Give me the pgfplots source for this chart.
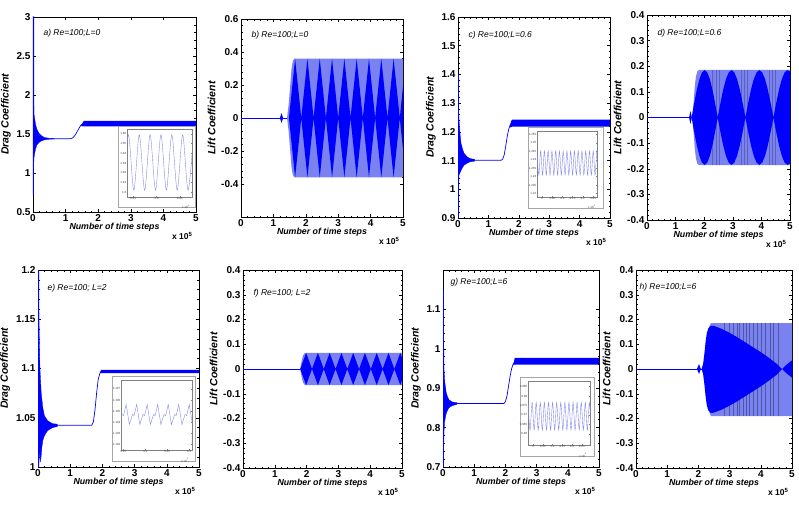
\documentclass[border=0pt]{standalone}
\usepackage{pgfplots}
\pgfplotsset{compat=1.18}
\usepackage{fontspec}
\setmainfont{Liberation Sans}
\definecolor{lb}{RGB}{122,130,240}
\definecolor{sb}{RGB}{78,84,168}
\definecolor{ib}{RGB}{135,140,235}
\pgfplotsset{
  panel/.style={scale only axis, anchor=south west, xmin=0, xmax=5, xtick={0,1,2,3,4,5},
    minor x tick num=4, minor y tick num=4, tick align=inside,
    major tick length=3pt, minor tick length=1.5pt,
    every tick/.style={black, line width=0.5pt}, axis line style={line width=0.7pt},
    tick label style={font=\bfseries\fontsize{10}{10}\selectfont},
    /pgf/number format/assume math mode=true, /pgf/number format/fixed, scaled ticks=false,
    xlabel={Number of time steps},
    xlabel style={font=\bfseries\itshape\fontsize{8.8}{9}\selectfont, yshift=5pt},
    ylabel style={font=\bfseries\itshape\fontsize{10.5}{10.5}\selectfont, yshift=-1pt},
    xticklabel style={yshift=1pt}, yticklabel style={xshift=1pt}},
  inset/.style={scale only axis, anchor=south west, tick align=inside, major tick length=1pt,
    minor tick num=0, every tick/.style={gray}, axis line style={gray, line width=0.3pt},
    tick label style={font=\fontsize{3}{3}\selectfont, text=darkgray, inner sep=0.5pt},
    /pgf/number format/assume math mode=true, /pgf/number format/fixed,
    /pgf/number format/precision=3, scaled ticks=false},
}
\tikzset{
  ttl/.style={anchor=west, font=\itshape\fontsize{8.5}{8.5}\selectfont},
  tenf/.style={anchor=north east, font=\bfseries\fontsize{8.5}{8.5}\selectfont},
  tinyf/.style={anchor=north east, font=\fontsize{3}{3}\selectfont, text=darkgray},
}
\begin{document}
\begin{tikzpicture}[x=1pt,y=1pt]
\useasboundingbox (0,0) rectangle (799,507);

% ---------------- a ----------------
\begin{axis}[panel, name=pa, at={(33pt,295pt)}, width=163pt, height=195pt,
  ymin=0.5, ymax=3, ytick={0.5,1,1.5,2,2.5,3}, ylabel={Drag Coefficient}]
\addplot[blue, line width=1.3pt] coordinates {(0.004,0.72) (0.006,3) (0.012,3) (0.016,1.15)};
\addplot[fill=blue, draw=blue, line width=0.3pt] coordinates {(0.015,1.15) (0.02,2.05) (0.03,1.75) (0.05,1.7) (0.08,1.62) (0.12,1.56) (0.18,1.51) (0.25,1.48) (0.35,1.455) (0.5,1.445) (0.65,1.442) (0.65,1.436) (0.5,1.433) (0.35,1.425) (0.25,1.41) (0.18,1.39) (0.12,1.36) (0.08,1.31) (0.05,1.25) (0.03,1.2)} -- cycle;
\addplot[blue, line width=0.7pt] coordinates {(0.6,1.44) (1.15,1.44) (1.22,1.45) (1.3,1.49) (1.38,1.55) (1.45,1.6) (1.5,1.625)};
\addplot[fill=blue, draw=none] coordinates {(1.45,1.6) (1.52,1.64) (1.56,1.668) (5,1.668) (5,1.598) (1.55,1.598) (1.5,1.6)} -- cycle;
\end{axis}
\node[ttl] at ([xshift=7pt,yshift=-16pt]pa.north west) {a) Re=100;L=0};
\node[tenf] at ([yshift=-17pt]pa.south east) {x 10\textsuperscript{5}};

% ---------------- b ----------------
\begin{axis}[panel, name=pb, at={(241pt,290pt)}, width=162pt, height=198pt,
  ymin=-0.6, ymax=0.6, ytick={-0.4,-0.2,0,0.2,0.4,0.6}, ylabel={Lift Coefficient}]
\addplot[blue, line width=0.7pt] coordinates {(0,0) (1.45,0)};
\addplot[fill=blue, draw=none] coordinates {(1.2,0) (1.25,0.03) (1.3,0) (1.25,-0.03)} -- cycle;
\addplot[fill=lb, draw=none] coordinates {(1.42,0) (1.47,0.08) (1.52,0.2) (1.56,0.3) (1.6,0.345) (1.65,0.36) (5,0.36) (5,-0.36) (1.65,-0.36) (1.6,-0.345) (1.56,-0.3) (1.52,-0.2) (1.47,-0.08)} -- cycle;
\addplot[fill=blue, draw=none] coordinates {(1.48,0) (1.67,0.36) (1.86,0) (2.05,0.36) (2.24,0) (2.43,0.36) (2.62,0) (2.81,0.36) (3.00,0) (3.19,0.36) (3.38,0) (3.57,0.36) (3.76,0) (3.95,0.36) (4.14,0) (4.33,0.36) (4.52,0) (4.71,0.36) (4.90,0) (5,0.19) (5,-0.19) (4.90,0) (4.71,-0.36) (4.52,0) (4.33,-0.36) (4.14,0) (3.95,-0.36) (3.76,0) (3.57,-0.36) (3.38,0) (3.19,-0.36) (3.00,0) (2.81,-0.36) (2.62,0) (2.43,-0.36) (2.24,0) (2.05,-0.36) (1.86,0) (1.67,-0.36)} -- cycle;
\end{axis}
\node[ttl] at ([xshift=7pt,yshift=-16pt]pb.north west) {b) Re=100;L=0};
\node[tenf] at ([yshift=-17pt]pb.south east) {x 10\textsuperscript{5}};

% ---------------- c ----------------
\begin{axis}[panel, name=pc, at={(458pt,289pt)}, width=152pt, height=201pt,
  ymin=0.9, ymax=1.6, ytick={0.9,1,1.1,1.2,1.3,1.4,1.5,1.6}, ylabel={Drag Coefficient}]
\addplot[blue, line width=1.3pt] coordinates {(0.003,0.9) (0.006,1.4) (0.01,1.3) (0.014,1.04)};
\addplot[fill=blue, draw=blue, line width=0.3pt] coordinates {(0.012,1.04) (0.015,1.3) (0.03,1.25) (0.06,1.2) (0.1,1.16) (0.15,1.14) (0.2,1.125) (0.3,1.113) (0.4,1.107) (0.55,1.104) (0.55,1.098) (0.4,1.096) (0.3,1.091) (0.2,1.084) (0.15,1.076) (0.1,1.066) (0.06,1.056) (0.03,1.05)} -- cycle;
\addplot[blue, line width=0.7pt] coordinates {(0.5,1.101) (1.42,1.101) (1.47,1.105) (1.52,1.12) (1.57,1.15) (1.62,1.185) (1.67,1.21) (1.72,1.225) (1.76,1.23)};
\addplot[fill=blue, draw=none] coordinates {(1.7,1.215) (1.74,1.235) (1.78,1.243) (5,1.243) (5,1.218) (1.78,1.218)} -- cycle;
\end{axis}
\node[ttl] at ([xshift=7pt,yshift=-18pt]pc.north west) {c) Re=100;L=0.6};
\node[tenf] at ([yshift=-17pt]pc.south east) {x 10\textsuperscript{5}};

% ---------------- d ----------------
\begin{axis}[panel, name=pd, at={(647pt,287pt)}, width=143pt, height=205pt,
  ymin=-0.4, ymax=0.4, ytick={-0.4,-0.3,-0.2,-0.1,0,0.1,0.2,0.3,0.4}, ylabel={Lift Coefficient}]
\addplot[blue, line width=0.7pt] coordinates {(0,0) (1.55,0)};
\addplot[fill=blue, draw=none] coordinates {(1.47,0) (1.52,0.025) (1.57,0) (1.52,-0.025)} -- cycle;
\addplot[fill=lb, draw=none] coordinates {(1.58,0) (1.63,0.06) (1.67,0.12) (1.71,0.16) (1.76,0.18) (1.82,0.186) (5,0.186) (5,-0.186) (1.82,-0.186) (1.76,-0.18) (1.71,-0.16) (1.67,-0.12) (1.63,-0.06)} -- cycle;
\addplot[ycomb, sb!70!lb, line width=0.9pt] coordinates {(2.3,0.186) (2.42,0.186) (2.55,0.186) (3.3,0.186) (3.4,0.186) (3.52,0.186) (4.28,0.186) (4.37,0.186) (4.5,0.186)};
\addplot[ycomb, sb!70!lb, line width=0.9pt] coordinates {(2.3,-0.186) (2.42,-0.186) (2.55,-0.186) (3.3,-0.186) (3.4,-0.186) (3.52,-0.186) (4.28,-0.186) (4.37,-0.186) (4.5,-0.186)};
\addplot[fill=blue, draw=none] coordinates {(1.56,0) (1.651,0.057) (1.742,0.109) (1.833,0.150) (1.924,0.176) (2.015,0.185) (2.106,0.176) (2.197,0.150) (2.288,0.109) (2.379,0.057) (2.47,0) (2.567,0.057) (2.664,0.109) (2.761,0.150) (2.858,0.176) (2.955,0.185) (3.052,0.176) (3.149,0.150) (3.246,0.109) (3.343,0.057) (3.44,0) (3.538,0.057) (3.636,0.109) (3.734,0.150) (3.832,0.176) (3.93,0.185) (4.028,0.176) (4.126,0.150) (4.224,0.109) (4.322,0.057) (4.42,0) (4.518,0.057) (4.616,0.109) (4.714,0.150) (4.812,0.176) (4.91,0.185) (5,0.179) (5,-0.179) (4.91,-0.185) (4.812,-0.176) (4.714,-0.150) (4.616,-0.109) (4.518,-0.057) (4.42,0) (4.322,-0.057) (4.224,-0.109) (4.126,-0.150) (4.028,-0.176) (3.93,-0.185) (3.832,-0.176) (3.734,-0.150) (3.636,-0.109) (3.538,-0.057) (3.44,0) (3.343,-0.057) (3.246,-0.109) (3.149,-0.150) (3.052,-0.176) (2.955,-0.185) (2.858,-0.176) (2.761,-0.150) (2.664,-0.109) (2.567,-0.057) (2.47,0) (2.379,-0.057) (2.288,-0.109) (2.197,-0.150) (2.106,-0.176) (2.015,-0.185) (1.924,-0.176) (1.833,-0.150) (1.742,-0.109) (1.651,-0.057)} -- cycle;
\end{axis}
\node[ttl] at ([xshift=7pt,yshift=-18pt]pd.north west) {d) Re=100;L=0.6};
\node[tenf] at ([yshift=-17pt]pd.south east) {x 10\textsuperscript{5}};

% ---------------- e ----------------
\begin{axis}[panel, name=pe, at={(38pt,40pt)}, width=161pt, height=197pt,
  ymin=1, ymax=1.2, ytick={1,1.05,1.1,1.15,1.2}, ylabel={Drag Coefficient}]
\addplot[blue, line width=1.3pt] coordinates {(0.003,1.0) (0.006,1.2) (0.012,1.2) (0.018,1.0)};
\addplot[fill=blue, draw=blue, line width=0.3pt] coordinates {(0.015,1.0) (0.02,1.17) (0.04,1.13) (0.06,1.1) (0.1,1.075) (0.15,1.06) (0.2,1.052) (0.3,1.047) (0.45,1.044) (0.6,1.0435) (0.6,1.041) (0.45,1.04) (0.3,1.037) (0.2,1.032) (0.15,1.027) (0.12,1.02) (0.1,1.012) (0.08,1.005) (0.06,1.015) (0.04,1.01)} -- cycle;
\addplot[blue, line width=0.7pt] coordinates {(0.55,1.0423) (1.67,1.0423) (1.72,1.046) (1.77,1.058) (1.82,1.075) (1.87,1.089) (1.92,1.095) (1.96,1.097)};
\addplot[fill=blue, draw=none] coordinates {(1.92,1.0955) (1.96,1.0985) (5,1.0985) (5,1.0952) (1.96,1.0952)} -- cycle;
\end{axis}
\node[ttl] at ([xshift=6pt,yshift=-18pt]pe.north west) {e) Re=100; L=2};
\node[tenf] at ([yshift=-17pt]pe.south east) {x 10\textsuperscript{5}};

% ---------------- f ----------------
\begin{axis}[panel, name=pf, at={(243pt,39pt)}, width=159pt, height=198pt,
  ymin=-0.4, ymax=0.4, ytick={-0.4,-0.3,-0.2,-0.1,0,0.1,0.2,0.3,0.4}, ylabel={Lift Coefficient}]
\addplot[blue, line width=0.7pt] coordinates {(0,0) (1.84,0)};
\addplot[fill=lb, draw=none] coordinates {(1.8,0) (1.84,0.03) (1.88,0.052) (1.92,0.062) (1.96,0.065) (5,0.065) (5,-0.065) (1.96,-0.065) (1.92,-0.062) (1.88,-0.052) (1.84,-0.03)} -- cycle;
\addplot[fill=blue, draw=none] coordinates {(1.80,0) (1.985,0.065) (2.17,0) (2.355,0.065) (2.54,0) (2.725,0.065) (2.91,0) (3.095,0.065) (3.28,0) (3.465,0.065) (3.65,0) (3.835,0.065) (4.02,0) (4.205,0.065) (4.39,0) (4.575,0.065) (4.76,0) (4.945,0.065) (5,0.046) (5,-0.046) (4.945,-0.065) (4.76,0) (4.575,-0.065) (4.39,0) (4.205,-0.065) (4.02,0) (3.835,-0.065) (3.65,0) (3.465,-0.065) (3.28,0) (3.095,-0.065) (2.91,0) (2.725,-0.065) (2.54,0) (2.355,-0.065) (2.17,0) (1.985,-0.065)} -- cycle;
\end{axis}
\node[ttl] at ([xshift=7pt,yshift=-23pt]pf.north west) {f) Re=100; L=2};
\node[tenf] at ([yshift=-17pt]pf.south east) {x 10\textsuperscript{5}};

% ---------------- g ----------------
\begin{axis}[panel, name=pg, at={(443pt,40pt)}, width=156pt, height=197pt,
  ymin=0.7, ymax=1.2, ytick={0.7,0.8,0.9,1,1.1}, ylabel={Drag Coefficient}]
\addplot[blue, line width=1.3pt] coordinates {(0.003,0.7) (0.006,1.15) (0.011,1.0) (0.015,0.76)};
\addplot[fill=blue, draw=blue, line width=0.3pt] coordinates {(0.012,0.74) (0.015,1.0) (0.03,0.95) (0.05,0.92) (0.1,0.89) (0.15,0.877) (0.2,0.87) (0.3,0.865) (0.45,0.863) (0.45,0.859) (0.3,0.856) (0.2,0.851) (0.15,0.845) (0.1,0.835) (0.05,0.815) (0.03,0.79)} -- cycle;
\addplot[blue, line width=0.7pt] coordinates {(0.4,0.861) (1.95,0.861) (2.0,0.866) (2.05,0.88) (2.1,0.905) (2.15,0.93) (2.2,0.95) (2.25,0.962) (2.3,0.967)};
\addplot[fill=blue, draw=none] coordinates {(2.25,0.958) (2.3,0.977) (5,0.977) (5,0.96) (2.3,0.96)} -- cycle;
\end{axis}
\node[ttl] at ([xshift=4pt,yshift=-12pt]pg.north west) {g) Re=100;L=6};
\node[tenf] at ([yshift=-17pt]pg.south east) {x 10\textsuperscript{5}};

% ---------------- h ----------------
\begin{axis}[panel, name=ph, at={(636pt,39pt)}, width=156pt, height=198pt,
  ymin=-0.4, ymax=0.4, ytick={-0.4,-0.3,-0.2,-0.1,0,0.1,0.2,0.3,0.4}, ylabel={Lift Coefficient}]
\addplot[blue, line width=0.7pt] coordinates {(0,0) (2.1,0)};
\addplot[fill=blue, draw=none] coordinates {(1.95,0) (2.02,0.02) (2.08,0) (2.02,-0.02)} -- cycle;
\addplot[fill=lb, draw=none] coordinates {(2.22,0) (2.27,0.08) (2.31,0.14) (2.35,0.172) (2.4,0.185) (5,0.185) (5,-0.19) (2.4,-0.19) (2.35,-0.175) (2.31,-0.14) (2.27,-0.08)} -- cycle;
\addplot[ycomb, sb, line width=1.1pt] coordinates {(2.85,0.185) (2.99,0.185) (3.12,0.185) (3.25,0.185) (3.31,0.185) (3.44,0.185) (3.55,0.185) (3.65,0.185) (3.76,0.185) (3.89,0.185) (4.03,0.185) (4.14,0.185) (4.30,0.185) (4.42,0.185) (4.56,0.185)};
\addplot[ycomb, sb, line width=1.1pt] coordinates {(2.85,-0.19) (2.99,-0.19) (3.12,-0.19) (3.25,-0.19) (3.31,-0.19) (3.44,-0.19) (3.55,-0.19) (3.65,-0.19) (3.76,-0.19) (3.89,-0.19) (4.03,-0.19) (4.14,-0.19) (4.30,-0.19) (4.42,-0.19) (4.56,-0.19)};
\addplot[fill=blue, draw=none] coordinates {(2.1,0) (2.15,0.02) (2.19,0.06) (2.23,0.11) (2.27,0.145) (2.32,0.165) (2.4,0.175) (2.5,0.174) (2.75,0.162) (3,0.146) (3.25,0.128) (3.5,0.108) (3.75,0.088) (4,0.068) (4.25,0.046) (4.5,0.022) (4.68,0) (4.8,0.015) (5,0.035) (5,-0.035) (4.8,-0.015) (4.68,0) (4.5,-0.024) (4.25,-0.048) (4,-0.07) (3.75,-0.09) (3.5,-0.11) (3.25,-0.13) (3,-0.148) (2.75,-0.164) (2.5,-0.176) (2.4,-0.178) (2.32,-0.168) (2.27,-0.148) (2.23,-0.11) (2.19,-0.06) (2.15,-0.02)} -- cycle;
\end{axis}
\node[ttl] at ([xshift=0pt,yshift=-17pt]ph.north west) {h) Re=100;L=6};
\node[tenf] at ([yshift=-17pt]ph.south east) {x 10\textsuperscript{5}};

% ---------------- insets ----------------
\fill[white] (118,300) rectangle (195,381);
\draw[gray!70, line width=0.3pt] (118,300) rectangle (195,381);
\begin{axis}[inset, at={(127pt,310pt)}, width=65pt, height=68pt,
  xmin=3.537, xmax=3.676, ymin=1.595, ymax=1.665,
  xtick={3.55,3.6,3.65}, ytick={1.6,1.61,1.62,1.63,1.64,1.65,1.66}]
\addplot[ib, line width=0.4pt, smooth] coordinates {(3.5284,1.602) (3.5400,1.659) (3.5516,1.602) (3.5632,1.659) (3.5748,1.602) (3.5864,1.659) (3.5980,1.602) (3.6096,1.659) (3.6212,1.602) (3.6328,1.659) (3.6444,1.602) (3.6560,1.659) (3.6676,1.602) (3.6792,1.659)};
\end{axis}
\node[tinyf] at (193,305) {x 10\textsuperscript{5}};

\fill[white] (528,299) rectangle (603,380);
\draw[gray!70, line width=0.3pt] (528,299) rectangle (603,380);
\begin{axis}[inset, at={(537pt,310pt)}, width=60pt, height=66pt,
  xmin=2.9755, xmax=3.2696, ymin=1.218, ymax=1.257,
  xtick={3,3.05,3.1,3.15,3.2,3.25}, ytick={1.22,1.225,1.23,1.235,1.24,1.245,1.25,1.255}]
\addplot[ib, line width=0.4pt, smooth] coordinates {(2.9750,1.2452) (2.9842,1.231) (2.9934,1.2452) (3.0026,1.231) (3.0118,1.2452) (3.0210,1.231) (3.0302,1.2452) (3.0394,1.231) (3.0486,1.2452) (3.0578,1.231) (3.0670,1.2452) (3.0762,1.231) (3.0854,1.2452) (3.0946,1.231) (3.1038,1.2452) (3.1130,1.231) (3.1222,1.2452) (3.1314,1.231) (3.1406,1.2452) (3.1498,1.231) (3.1590,1.2452) (3.1682,1.231) (3.1774,1.2452) (3.1866,1.231) (3.1958,1.2452) (3.2050,1.231) (3.2142,1.2452) (3.2234,1.231) (3.2326,1.2452) (3.2418,1.231) (3.2510,1.2452) (3.2602,1.231) (3.2694,1.2452) (3.2786,1.231)};
\end{axis}
\node[tinyf] at (599,305) {x 10\textsuperscript{5}};

\fill[white] (112,46) rectangle (195,131);
\draw[gray!70, line width=0.3pt] (112,46) rectangle (195,131);
\begin{axis}[inset, at={(121pt,57pt)}, width=71pt, height=70pt,
  xmin=3.145, xmax=3.307, ymin=1.1015, ymax=1.1078,
  xtick={3.15,3.2,3.25,3.3}, ytick={1.102,1.103,1.104,1.105,1.106,1.107}]
\addplot[ib, line width=0.4pt] coordinates {(3.140,1.1038) (3.1472,1.1047) (3.1508,1.1046) (3.1568,1.1056) (3.164,1.1038) (3.1712,1.1047) (3.1748,1.1046) (3.1808,1.1056) (3.188,1.1038) (3.1952,1.1047) (3.1988,1.1046) (3.2048,1.1056) (3.212,1.1038) (3.2192,1.1047) (3.2228,1.1046) (3.2288,1.1056) (3.236,1.1038) (3.2432,1.1047) (3.2468,1.1046) (3.2528,1.1056) (3.260,1.1038) (3.2672,1.1047) (3.2708,1.1046) (3.2768,1.1056) (3.284,1.1038) (3.2912,1.1047) (3.2948,1.1046) (3.3008,1.1056) (3.308,1.1038)};
\end{axis}
\node[tinyf] at (192,52) {x 10\textsuperscript{5}};

\fill[white] (520,51) rectangle (594,130);
\draw[gray!70, line width=0.3pt] (520,51) rectangle (594,130);
\begin{axis}[inset, at={(528pt,62pt)}, width=62pt, height=64pt,
  xmin=2.974, xmax=3.292, ymin=0.954, ymax=0.988,
  xtick={3,3.05,3.1,3.15,3.2,3.25}, ytick={0.96,0.965,0.97,0.975,0.98,0.985}]
\addplot[ib, line width=0.4pt, smooth] coordinates {(2.974,0.9766) (2.9845,0.962) (2.995,0.9766) (3.0055,0.962) (3.016,0.9766) (3.0265,0.962) (3.037,0.9766) (3.0475,0.962) (3.058,0.9766) (3.0685,0.962) (3.079,0.9766) (3.0895,0.962) (3.100,0.9766) (3.1105,0.962) (3.121,0.9766) (3.1315,0.962) (3.142,0.9766) (3.1525,0.962) (3.163,0.9766) (3.1735,0.962) (3.184,0.9766) (3.1945,0.962) (3.205,0.9766) (3.2155,0.962) (3.226,0.9766) (3.2365,0.962) (3.247,0.9766) (3.2575,0.962) (3.268,0.9766) (3.2785,0.962) (3.289,0.9766) (3.2995,0.962)};
\end{axis}
\node[tinyf] at (590,57) {x 10\textsuperscript{5}};

\end{tikzpicture}
\end{document}
